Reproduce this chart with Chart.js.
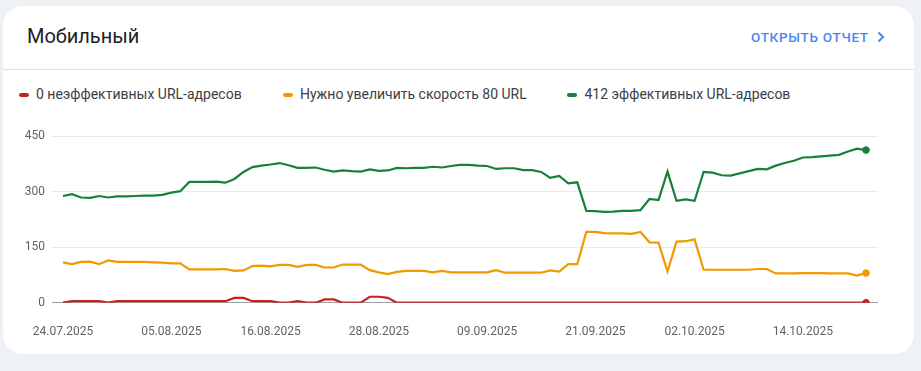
<!DOCTYPE html>
<html><head><meta charset="utf-8">
<script src="https://cdn.jsdelivr.net/npm/chart.js@4.4.1/dist/chart.umd.min.js"></script>
<style>
html,body{margin:0;padding:0;width:921px;height:371px;background:#eef1f6;overflow:hidden;font-family:Roboto,"Noto Sans",Arial,sans-serif}
#card{position:absolute;left:3px;top:6px;width:911px;height:348px;background:#fff;border-radius:20px}
.abs{position:absolute;white-space:nowrap;line-height:1}
#title{left:27px;top:26px;font-size:20px;color:#202124}
#link{left:751px;top:30.5px;font-size:13.5px;font-weight:500;color:#4a85f4;letter-spacing:0.7px}
#chev{position:absolute;left:876px;top:31px}
#sep{position:absolute;left:3px;top:69px;width:911px;height:1px;background:#e0e0e0}
.mk{position:absolute;width:10px;height:4px;border-radius:2px;top:92.5px}
.lt{top:86.7px;font-size:14px;color:#3c4043}
#wrap{position:absolute;left:0;top:110px;width:921px;height:240px}
</style></head>
<body>
<div id="card"></div>
<div id="title" class="abs">Мобильный</div>
<div id="link" class="abs">ОТКРЫТЬ ОТЧЕТ</div>
<svg id="chev" width="10" height="12" viewBox="0 0 10 12"><polyline points="2.5,1.5 7,6 2.5,10.5" fill="none" stroke="#4a85f4" stroke-width="2"/></svg>
<div id="sep"></div>
<div id="legend"></div>
<div id="wrap"><canvas id="c" width="921" height="240"></canvas></div>
<script>
const dates = [
"24.07.2025","25.07.2025","26.07.2025","27.07.2025","28.07.2025","29.07.2025","30.07.2025","31.07.2025",
"01.08.2025","02.08.2025","03.08.2025","04.08.2025","05.08.2025","06.08.2025","07.08.2025","08.08.2025",
"09.08.2025","10.08.2025","11.08.2025","12.08.2025","13.08.2025","14.08.2025","15.08.2025","16.08.2025",
"17.08.2025","18.08.2025","19.08.2025","20.08.2025","21.08.2025","22.08.2025","23.08.2025","24.08.2025",
"25.08.2025","26.08.2025","27.08.2025","28.08.2025","29.08.2025","30.08.2025","31.08.2025","01.09.2025",
"02.09.2025","03.09.2025","04.09.2025","05.09.2025","06.09.2025","07.09.2025","08.09.2025","09.09.2025",
"10.09.2025","11.09.2025","12.09.2025","13.09.2025","14.09.2025","15.09.2025","16.09.2025","17.09.2025",
"18.09.2025","19.09.2025","20.09.2025","21.09.2025","22.09.2025","23.09.2025","24.09.2025","25.09.2025",
"26.09.2025","27.09.2025","28.09.2025","29.09.2025","30.09.2025","01.10.2025","02.10.2025","03.10.2025",
"04.10.2025","05.10.2025","06.10.2025","07.10.2025","08.10.2025","09.10.2025","10.10.2025","11.10.2025",
"12.10.2025","13.10.2025","14.10.2025","15.10.2025","16.10.2025","17.10.2025","18.10.2025","19.10.2025",
"20.10.2025","21.10.2025"];
const tickIndices = [0,12,23,35,47,59,70,82];
const yTicks = [0,150,300,450];
const seriesNames = ["0 неэффективных URL-адресов","Нужно увеличить скорость 80 URL","412 эффективных URL-адресов"];
const seriesColors = ["#c5221f","#f29900","#188038"];
const poor = [0,4,4,4,4,0,4,4,4,4,4,4,4,4,4,4,4,4,4,13,13,4,4,4,0,0,4,0,0,9,
  9,0,0,0,16,16,13,0,0,0,0,0,0,0,0,0,0,0,0,0,0,0,0,0,0,0,0,0,0,0,
  0,0,0,0,0,0,0,0,0,0,0,0,0,0,0,0,0,0,0,0,0,0,0,0,0,0,0,0,0,0];
const needsImprovement = [109,104,110,111,104,114,110,110,110,110,109,108,106,106,90,90,90,90,91,86,87,99,100,98,102,102,97,102,102,95,
  95,103,103,103,88,82,77,83,86,86,86,82,86,82,82,82,82,82,88,81,81,81,81,81,87,84,104,104,191,191,
  188,187,187,186,191,163,162,84,165,166,171,89,89,89,89,89,89,91,91,79,79,79,80,80,80,79,79,79,73,80];
const good = [288,293,284,283,288,284,287,287,288,289,289,291,297,301,326,326,326,327,324,334,353,366,370,373,377,371,364,364,365,359,
  354,357,355,354,360,356,357,364,363,364,364,367,365,369,372,372,370,369,361,363,363,358,358,353,337,342,322,325,248,247,
  245,246,248,248,250,280,277,354,275,279,275,353,351,344,343,349,355,361,360,370,377,383,392,393,395,397,399,408,416,412];

const legend = document.getElementById('legend');
const mkX = [19,283,567], txX = [36,300,584.5];
seriesNames.forEach((n,i)=>{
  const m=document.createElement('div');m.className='mk';m.style.left=mkX[i]+'px';m.style.background=seriesColors[i];legend.appendChild(m);
  const t=document.createElement('div');t.className='abs lt';t.style.left=txX[i]+'px';t.textContent=n;legend.appendChild(t);
});

const seriesData = [poor, needsImprovement, good];
const datasets = seriesData.map((arr,k)=>({
  label: seriesNames[k],
  data: arr.map((v,i)=>({x:i,y:v})),
  borderColor: seriesColors[k],
  backgroundColor: seriesColors[k],
  borderWidth: 2.2,
  tension: 0,
  pointRadius: c => c.dataIndex === arr.length-1 ? 3.3 : 0,
  pointBorderWidth: 1,
  pointHoverRadius: 0,
  fill: false
}));

new Chart(document.getElementById('c'), {
  type: 'line',
  data: { datasets },
  options: {
    responsive: false, animation: false, devicePixelRatio: 1,
    layout: { padding: { top: 26, right: 43, left: 0, bottom: 0 } },
    plugins: { legend: { display: false }, tooltip: { enabled: false } },
    scales: {
      x: {
        type: 'linear', min: -1.22, max: 90.33,
        grid: { display: false }, border: { display: false },
        afterBuildTicks: s => { s.ticks = tickIndices.map(v=>({value:v})); },
        afterFit: s => { s.height = 47.3; },
        ticks: { autoSkip: false, maxRotation: 0, color: '#5f6368', font: { family: 'Roboto', size: 12 }, padding: 14,
          callback: v => dates[v] ?? '' }
      },
      y: {
        min: 0, max: 450,
        border: { display: false },
        grid: { drawTicks: false, color: c => c.tick && c.tick.value === 0 ? '#9aa0a6' : '#e8eaed', lineWidth: 1 },
        afterBuildTicks: s => { s.ticks = yTicks.map(v=>({value:v})); },
        afterFit: s => { s.width = 52; },
        ticks: { color: '#5f6368', font: { family: 'Roboto', size: 12 }, padding: 7 }
      }
    }
  }
});
</script>
</body></html>
